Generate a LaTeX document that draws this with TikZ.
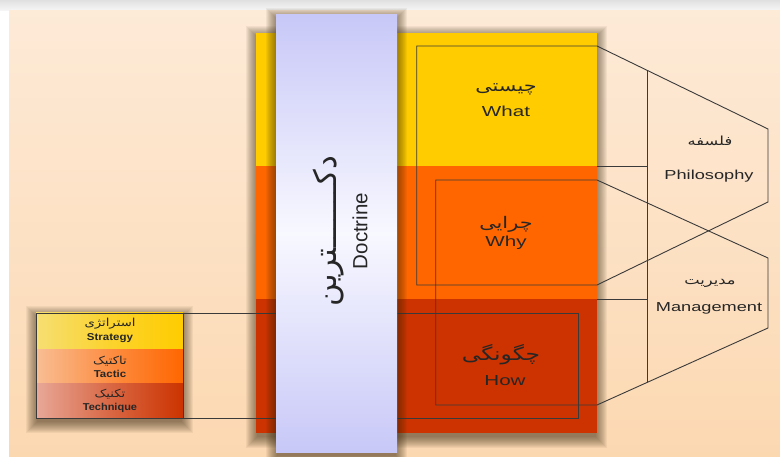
\documentclass[tikz,border=0pt]{standalone}
\usepackage{fontspec}
\setmainfont{Liberation Sans}
\newfontfamily\fa[Script=Arabic]{DejaVu Sans}
\TeXXeTstate=1
\usetikzlibrary{calc}
\definecolor{yel}{HTML}{FFCC00}
\definecolor{org}{HTML}{FF6600}
\definecolor{rd}{HTML}{CC3300}
\definecolor{peachT}{HTML}{FDEAD7}
\definecolor{peachB}{HTML}{FCD8B1}
\definecolor{lav}{HTML}{C8C8F8}
\definecolor{lavmid}{HTML}{F8F8FF}
\definecolor{ink}{HTML}{262626}
\definecolor{linec}{HTML}{3A3A3A}
\definecolor{yelL}{HTML}{F6DE72}
\definecolor{orgL}{HTML}{F9BE94}
\definecolor{rdL}{HTML}{E8A898}
\definecolor{shad}{HTML}{3A2A10}
\newcommand\softshadow[4]{%
  \foreach \i in {1,...,12}{%
    \fill[shad,opacity=0.06] (#1-\i+2,#2-\i+5) rectangle (#3+\i-2,#4+\i+3);
  }}
\newcommand\fatext[1]{{\fa\beginR #1\endR}}
\tikzset{
  frame/.style={draw=linec, line width=0.9pt},
  entxt/.style={text=ink, font=\fontsize{14.5}{16}\selectfont, inner sep=0pt},
  smalltxt/.style={text=ink, font=\fontsize{10}{11}\selectfont\bfseries, inner sep=0pt},
  fatxt/.style={text=ink, inner sep=0pt},
}
\begin{document}
\begin{tikzpicture}[x=1pt,y=-1pt]
\useasboundingbox (0,0) rectangle (780,457);
% background
\fill[white] (0,0) rectangle (780,457);
\shade[top color=black!12, bottom color=black!3] (0,0) rectangle (780,11);
\shade[top color=peachT, bottom color=peachB] (9,11) rectangle (780,457);

% main block
\softshadow{256}{33}{597}{433}
\fill[yel] (256,33) rectangle (597,166);
\fill[org] (256,166) rectangle (597,299);
\fill[rd] (256,299) rectangle (597,433);

% strategy box
\softshadow{36}{313}{183}{418}
\shade[left color=yelL, right color=yel, middle color=yel!60!yelL] (36,313) rectangle (183,350);
\shade[left color=orgL, right color=org, middle color=org!55!orgL] (36,350) rectangle (183,384);
\shade[left color=rdL, right color=rd, middle color=rd!55!rdL] (36,384) rectangle (183,418);
\node[draw=linec, line width=0.8pt, inner sep=0pt, outer sep=0pt, minimum width=147pt, minimum height=105pt, anchor=north west] (strat) at (36,313) {};

% frame coordinates
\coordinate (r1a) at (416.7,46);
\coordinate (r1b) at (597,46);
\coordinate (r1c) at (597,285);
\coordinate (r1d) at (416.7,285);
\coordinate (p1) at (768,129);
\coordinate (p2) at (768,202);
\coordinate (r2a) at (435.7,180);
\coordinate (r2b) at (597,180);
\coordinate (r2c) at (597,405);
\coordinate (r2d) at (435.7,405);
\coordinate (q1) at (768,258);
\coordinate (q2) at (768,328);
\coordinate (s1) at ($(r1b)!0.2924!(p1)$);
\coordinate (s2) at ($(r2c)!0.2924!(q2)$);
\coordinate (e1) at (597,166);
\coordinate (f1) at (647,166);
\coordinate (e2) at (597,299);
\coordinate (f2) at (647,299);
\coordinate (h1) at (578,313);
\coordinate (h2) at (578,418);

\draw[frame] (r1b) -- (r1a) -- (r1d) -- (r1c) -- (p2) -- (p1) -- cycle;
\draw[frame] (r2b) -- (r2a) -- (r2d) -- (r2c) -- (q2) -- (q1) -- cycle;
\draw[frame] (s1) -- (s2);
\draw[frame] (e1) -- (f1);
\draw[frame] (e2) -- (f2);
\draw[frame] (strat.north east) -- (h1) -- (h2) -- (strat.south east);

% doctrine band
\softshadow{276}{15}{397}{452}
\shade[top color=lav, bottom color=lav, middle color=lavmid] (276,15) rectangle (397,452);
\node[fatxt, rotate=90] (docfa) at (329,231) {\fontsize{31}{33}\selectfont\fatext{دکـــــــترین}};
\node[text=ink, inner sep=0pt, rotate=90, font=\fontsize{20.5}{22}\selectfont] (doc) at (360,231) {Doctrine};

% block labels
\node[fatxt] (whatfa) at (506,89) {\scalebox{1.3}[1]{\fontsize{16}{18}\selectfont\fatext{چیستی}}};
\node[entxt] (what) at (506,111) {\scalebox{1.42}[1]{What}};
\node[fatxt] (whyfa) at (506,224) {\scalebox{1.3}[1]{\fontsize{16}{18}\selectfont\fatext{چرایی}}};
\node[entxt] (why) at (506,243) {\scalebox{1.42}[1]{Why}};
\node[fatxt] (howfa) at (501,355) {\scalebox{1.3}[1]{\fontsize{18}{20}\selectfont\fatext{چگونگی}}};
\node[entxt] (how) at (505,381) {\scalebox{1.42}[1]{How}};

% right labels
\node[fatxt] (philfa) at (710,141) {\scalebox{1.3}[1]{\fontsize{12.5}{14}\selectfont\fatext{فلسفه}}};
\node[entxt, font=\fontsize{13}{15}\selectfont] (phil) at (709,176) {\scalebox{1.4}[1]{Philosophy}};
\node[fatxt] (mgmtfa) at (710,283) {\scalebox{1.3}[1]{\fontsize{12.5}{14}\selectfont\fatext{مدیریت}}};
\node[entxt, font=\fontsize{13}{15}\selectfont] (mgmt) at (709,308) {\scalebox{1.4}[1]{Management}};

% strategy box labels
\node[fatxt] (stfa) at (110,324) {\scalebox{1.2}[1]{\fontsize{11}{12}\selectfont\fatext{استراتژی}}};
\node[smalltxt] (st) at (110,338) {\scalebox{1.15}[1]{Strategy}};
\node[fatxt] (tafa) at (110,361) {\scalebox{1.2}[1]{\fontsize{11}{12}\selectfont\fatext{تاکتیک}}};
\node[smalltxt] (ta) at (110,374) {\scalebox{1.15}[1]{Tactic}};
\node[fatxt] (tefa) at (110,394) {\scalebox{1.2}[1]{\fontsize{11}{12}\selectfont\fatext{تکنیک}}};
\node[smalltxt] (te) at (110,408) {\scalebox{1.1}[1]{Technique}};
\end{tikzpicture}
\end{document}
